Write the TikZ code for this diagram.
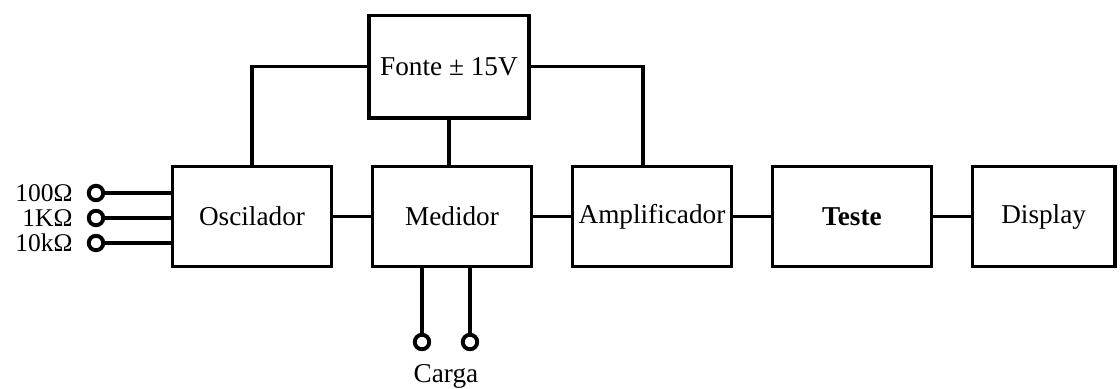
\documentclass[tikz,border=0pt]{standalone}
\usepackage{fontspec}
\setmainfont{Liberation Serif}
\usetikzlibrary{positioning,calc}

\begin{document}
\begin{tikzpicture}[
    x=0.02cm, y=-0.02cm,
    node distance=0.75cm,
    font=\fontsize{15.5}{18}\selectfont,
    box/.style={draw, line width=2pt, align=center, minimum width=3.18cm, minimum height=2cm, inner sep=1pt},
    wire/.style={line width=1.8pt},
    term/.style={draw, circle, line width=2.2pt, minimum size=0.29cm, inner sep=0pt},
    lbl/.style={inner sep=0pt, font=\fontsize{14.5}{16}\selectfont}
]
\useasboundingbox (0,0) rectangle (1120,389);
\node[box] (osc) at (252,216.5) {Oscilador};
\node[box, right=of osc] (med) {Medidor};
\node[box, right=of med] (amp) {Amplificador};
\node[box, right=of amp] (teste) {\textbf{Teste}};
\node[box, right=of teste, minimum width=2.85cm] (disp) {Display};
\node[box, above=0.9cm of med, xshift=-0.06cm, minimum width=3.2cm, minimum height=2.05cm] (fonte) {Fonte ± 15V};
% resistor inputs
\node[term] (r1) at (96,193) {};
\node[term] (r2) at (96,218) {};
\node[term] (r3) at (96,243) {};
\node[lbl, left=0.28cm of r1] (l1) {100Ω};
\node[lbl, left=0.28cm of r2] (l2) {1KΩ};
\node[lbl, left=0.28cm of r3] (l3) {10kΩ};
\draw[wire] (r1) -- (r1 -| osc.west);
\draw[wire] (r2) -- (r2 -| osc.west);
\draw[wire] (r3) -- (r3 -| osc.west);
% load terminals
\node[term] (c1) at (422,342) {};
\node[term] (c2) at (470,342) {};
\node[lbl, font=\fontsize{15.5}{18}\selectfont] (carga) at (446,376) {Carga};
\draw[wire] (c1) -- (c1 |- med.south);
\draw[wire] (c2) -- (c2 |- med.south);
% chain
\draw[wire] (osc) -- (med);
\draw[wire] (med) -- (amp);
\draw[wire] (amp) -- (teste);
\draw[wire] (teste) -- (disp);
% supply
\draw[wire] (osc.north) |- (fonte.west);
\draw[wire] (fonte.east) -| ($(amp.north)+(-9,0)$);
\draw[wire] (fonte) -- (fonte |- med.north);
\end{tikzpicture}
\end{document}
